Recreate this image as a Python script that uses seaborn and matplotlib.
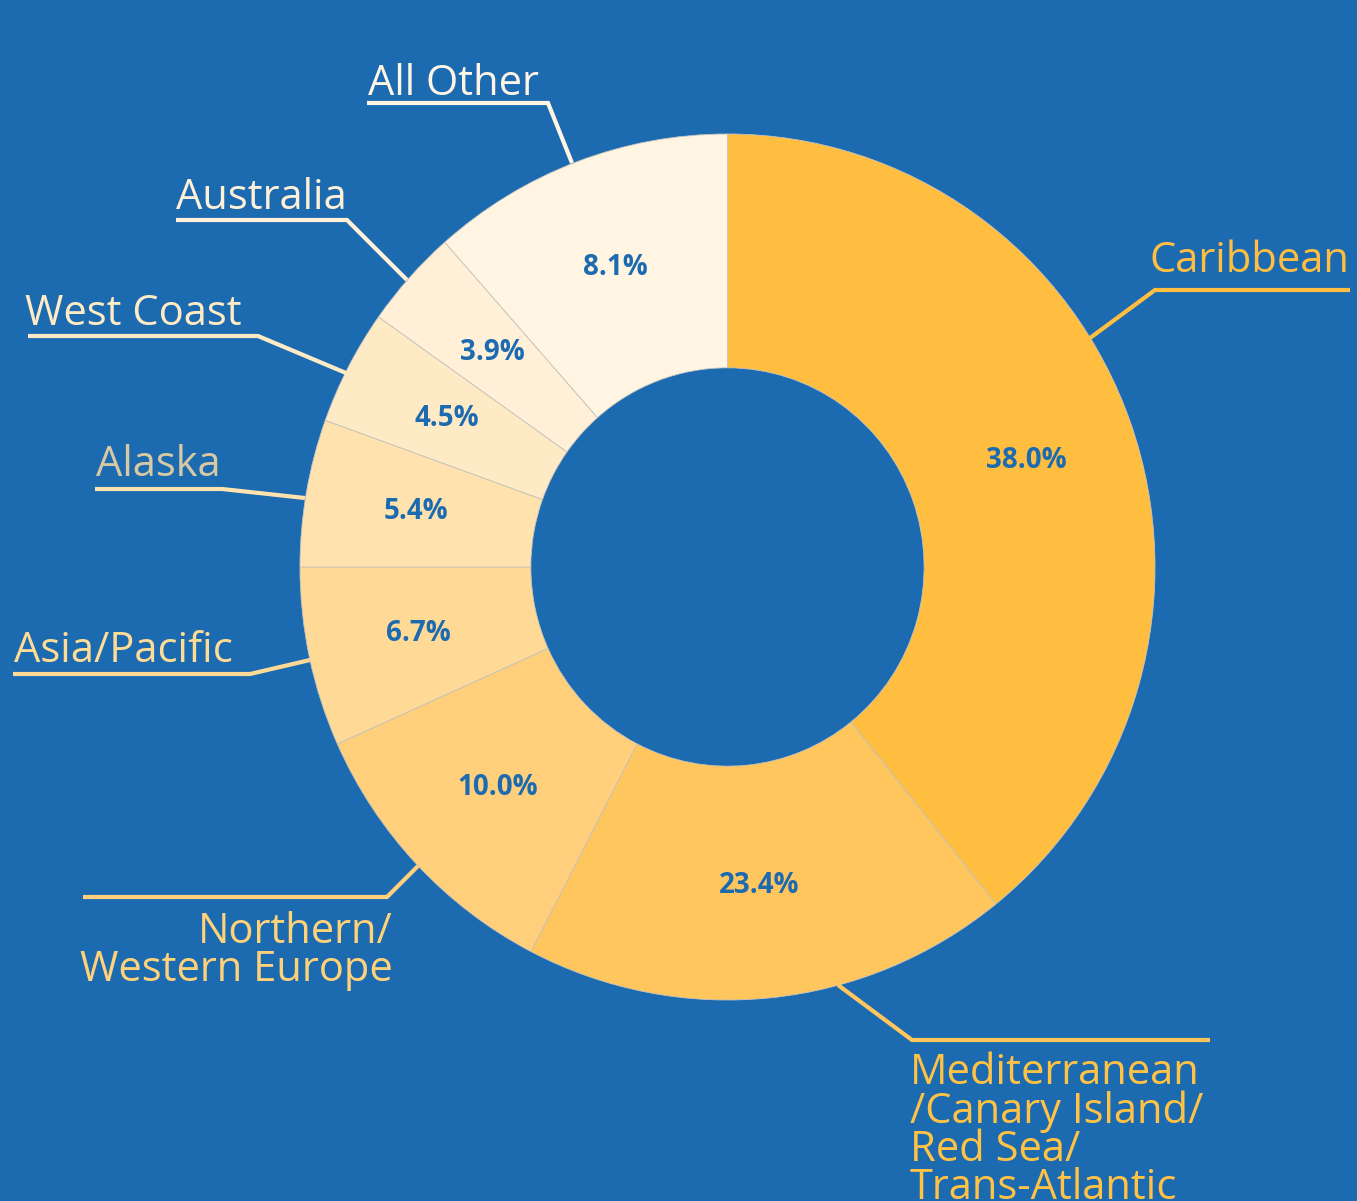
import matplotlib
matplotlib.use("Agg")
import matplotlib.pyplot as plt
import seaborn as sns

# ---- data ----
regions = ["Caribbean", "Mediterranean\n/Canary Island/\nRed Sea/\nTrans-Atlantic",
           "Northern/\nWestern Europe", "Asia/Pacific", "Alaska", "West Coast",
           "Australia", "All Other"]
# wedge sizes as drawn in the picture (degrees of arc / 3.6)
wedge_sizes = [39.2, 18.4, 10.7, 6.7, 5.5, 4.3, 3.7, 11.5]
# percentage labels as printed on the chart
pct_labels = ["38.0%", "23.4%", "10.0%", "6.7%", "5.4%", "4.5%", "3.9%", "8.1%"]
slice_colors = ["#FFBE40", "#FFC65D", "#FFCF7B", "#FFD996", "#FFE2AE",
                "#FFEAC6", "#FFF0D7", "#FFF5E2"]
label_colors = ["#FFBE40", "#FFC245", "#FFD27A", "#FFDC95", "#D8C9A3",
                "#FFEBC4", "#FFF0D8", "#FFF5E6"]
BG = "#1C6AB0"

sns.set_style("white", {"axes.facecolor": BG, "figure.facecolor": BG})
plt.rcParams["font.family"] = ["Open Sans", "DejaVu Sans"]

W, H = 1357, 1201
fig = plt.figure(figsize=(W / 100, H / 100), dpi=100)
ax = fig.add_axes([0, 0, 1, 1])
ax.set_facecolor(BG)

CX, CY, RX, RY = 727.5, 567.0, 427.5, 433.0


def px(x, y):
    return (x - CX) / RX, (CY - y) / RY


wedges, _, autotexts = ax.pie(
    wedge_sizes, colors=slice_colors, startangle=90, counterclock=False,
    radius=1.0, autopct="%.1f%%", pctdistance=0.74,
    wedgeprops=dict(width=0.54, edgecolor="#C6C4BC", linewidth=0.6),
    textprops=dict(color=BG, fontsize=20, fontweight="bold"))
for t, lab in zip(autotexts, pct_labels):
    t.set_text(lab)
ax.set_aspect("auto")
ax.set_xlim(px(0, 0)[0], px(W, 0)[0])
ax.set_ylim(px(0, H)[1], px(0, 0)[1])
ax.axis("off")

# leader-line layout (pixel coords): polyline points, text anchor, alignment
layout = [
    dict(pts=[(1090, 338), (1155, 290), (1350, 290)], txt=(1150, 272), ha="left", va="baseline"),
    dict(pts=[(838, 985), (912, 1040), (1210, 1040)], txt=(910, 1052), ha="left", va="top"),
    dict(pts=[(418, 866), (387, 897), (83, 897)], txt=(393, 911), ha="right", va="top"),
    dict(pts=[(310, 660), (250, 674), (13, 674)], txt=(14, 662), ha="left", va="baseline"),
    dict(pts=[(305, 498), (222, 489), (95, 489)], txt=(96, 476), ha="left", va="baseline"),
    dict(pts=[(346, 373), (258, 336), (28, 336)], txt=(25, 325), ha="left", va="baseline"),
    dict(pts=[(407, 280), (347, 220), (176, 220)], txt=(176, 209), ha="left", va="baseline"),
    dict(pts=[(572, 163), (548, 103), (367, 103)], txt=(368, 95), ha="left", va="baseline"),
]

for name, col, lcol, lay in zip(regions, slice_colors, label_colors, layout):
    xs, ys = zip(*[px(*p) for p in lay["pts"]])
    ax.plot(xs, ys, color=col, lw=3.0, solid_capstyle="butt",
            solid_joinstyle="miter", clip_on=False)
    tx, ty = px(*lay["txt"])
    ax.text(tx, ty, name, color=lcol, fontsize=30, ha=lay["ha"], va=lay["va"],
            linespacing=0.88, multialignment=lay["ha"])

fig.savefig("out.png", dpi=100, facecolor=BG)
